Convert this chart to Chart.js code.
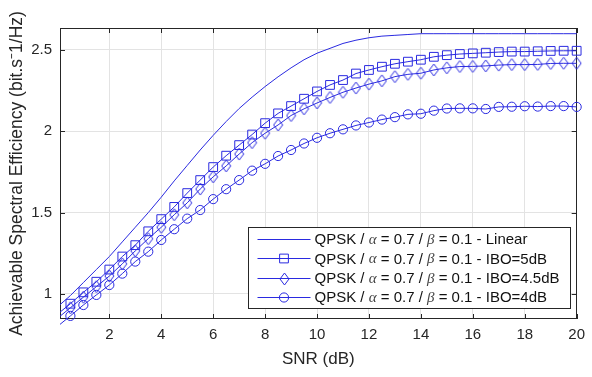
<!DOCTYPE html>
<html>
<head>
<meta charset="utf-8">
<script src="https://cdn.jsdelivr.net/npm/chart.js@4.4.1/dist/chart.umd.min.js"></script>
<style>
html,body{margin:0;padding:0;background:#fff;}
#wrap{width:592px;height:377px;position:relative;}
</style>
</head>
<body>
<div id="wrap"><canvas id="c" width="592" height="377"></canvas></div>
<script>
// ---------- data ----------
const snrDb = [0,0.5,1,1.5,2,2.5,3,3.5,4,4.5,5,5.5,6,6.5,7,7.5,8,8.5,9,9.5,10,10.5,11,11.5,12,12.5,13,13.5,14,14.5,15,15.5,16,16.5,17,17.5,18,18.5,19,19.5,20];

const seLinear = [0.92,0.99,1.07,1.15,1.23,1.32,1.41,1.50,1.595,1.695,1.79,1.885,1.975,2.06,2.14,2.21,2.275,2.335,2.39,2.44,2.48,2.51,2.54,2.56,2.575,2.585,2.59,2.595,2.6,2.6,2.6,2.6,2.6,2.6,2.6,2.6,2.6,2.6,2.6,2.6,2.6];

const seIbo5 = [0.875,0.94,1.01,1.075,1.15,1.23,1.30,1.385,1.46,1.535,1.62,1.70,1.78,1.85,1.915,1.98,2.05,2.11,2.155,2.20,2.245,2.285,2.315,2.355,2.377,2.397,2.415,2.428,2.44,2.458,2.468,2.475,2.479,2.483,2.487,2.49,2.49,2.492,2.494,2.495,2.495];

const seIbo45 = [0.85,0.915,0.98,1.045,1.11,1.185,1.265,1.34,1.41,1.487,1.56,1.645,1.72,1.787,1.86,1.93,1.988,2.039,2.097,2.138,2.174,2.208,2.24,2.266,2.29,2.31,2.336,2.35,2.357,2.377,2.39,2.398,2.399,2.402,2.407,2.41,2.41,2.411,2.417,2.418,2.418];

const seIbo4 = [0.80,0.865,0.932,0.994,1.055,1.125,1.199,1.26,1.332,1.398,1.463,1.516,1.583,1.644,1.70,1.758,1.80,1.848,1.885,1.925,1.96,1.988,2.012,2.036,2.054,2.072,2.087,2.104,2.108,2.127,2.14,2.141,2.141,2.137,2.15,2.151,2.154,2.152,2.155,2.155,2.15];

const seriesLabels = [
  'QPSK / α = 0.7 / β = 0.1 - Linear',
  'QPSK / α = 0.7 / β = 0.1 - IBO=5dB',
  'QPSK / α = 0.7 / β = 0.1 - IBO=4.5dB',
  'QPSK / α = 0.7 / β = 0.1 - IBO=4dB'
];

const xTickValues = [2,4,6,8,10,12,14,16,18,20];
const yTickValues = [1,1.5,2,2.5];
const xAxisTitle = 'SNR (dB)';
const yAxisTitle = 'Achievable Spectral Efficiency (bit.s\u207B1/Hz)';

// ---------- styles ----------
const X_MIN = 0.1, X_MAX = 20, Y_MIN = 0.846, Y_MAX = 2.635;
const BLUE = '#2a2ae0';
const AX = '#262626';
const FONT = '"Liberation Sans", Arial, Helvetica, sans-serif';

function makeDiamond() {
  const cv = document.createElement('canvas');
  cv.width = 11; cv.height = 14;
  const g = cv.getContext('2d');
  g.strokeStyle = BLUE; g.lineWidth = 1;
  g.beginPath();
  g.moveTo(5.5, 1); g.lineTo(10, 7); g.lineTo(5.5, 13); g.lineTo(1, 7); g.closePath();
  g.stroke();
  return cv;
}
const diamondImg = makeDiamond();

const toPts = arr => snrDb.map((x, i) => ({x: x, y: arr[i]}));

const markerDefs = [
  {style: false, radius: 0},
  {style: 'rect', radius: 6.2},
  {style: diamondImg, radius: 6},
  {style: 'circle', radius: 4.6}
];
const seriesData = [seLinear, seIbo5, seIbo45, seIbo4];

const datasets = seriesData.map((arr, i) => ({
  label: seriesLabels[i],
  data: toPts(arr),
  borderColor: BLUE,
  borderWidth: 1,
  backgroundColor: 'transparent',
  pointStyle: markerDefs[i].style,
  pointRadius: i === 0 ? 0 : (ctx => (ctx.parsed && ctx.parsed.x < X_MIN) ? 0 : markerDefs[i].radius),
  pointBorderColor: BLUE,
  pointBackgroundColor: 'rgba(0,0,0,0)',
  pointBorderWidth: 1,
  pointHoverRadius: 0,
  tension: 0,
  clip: {left: 0, top: 10, right: 10, bottom: 10}
}));

// ---------- plugins ----------
const framePlugin = {
  id: 'frame',
  beforeDatasetsDraw(chart) {
    const {ctx, chartArea: a, scales} = chart;
    ctx.save();
    ctx.strokeStyle = AX;
    ctx.lineWidth = 1;
    ctx.strokeRect(Math.round(a.left) + 0.5, Math.round(a.top) + 0.5, Math.round(a.right - a.left) - 1, Math.round(a.bottom - a.top) - 1);
    const tl = 5;
    ctx.beginPath();
    xTickValues.forEach(v => {
      const px = Math.round(scales.x.getPixelForValue(v)) + 0.5;
      ctx.moveTo(px, a.bottom); ctx.lineTo(px, a.bottom - tl);
      ctx.moveTo(px, a.top); ctx.lineTo(px, a.top + tl);
    });
    yTickValues.forEach(v => {
      const py = Math.round(scales.y.getPixelForValue(v)) + 0.5;
      ctx.moveTo(a.left, py); ctx.lineTo(a.left + tl, py);
      ctx.moveTo(a.right, py); ctx.lineTo(a.right - tl, py);
    });
    ctx.stroke();
    ctx.restore();
  }
};

function drawMarker(ctx, style, x, y, r) {
  if (!style) return;
  ctx.beginPath();
  if (style === 'rect') {
    const s = Math.SQRT1_2 * r;
    ctx.rect(x - s, y - s, 2 * s, 2 * s);
    ctx.stroke();
  } else if (style === 'circle') {
    ctx.arc(x, y, r, 0, Math.PI * 2);
    ctx.stroke();
  } else {
    ctx.drawImage(style, Math.round(x - style.width / 2), Math.round(y - style.height / 2));
  }
}

const legendPlugin = {
  id: 'matlabLegend',
  afterDraw(chart) {
    const {ctx, chartArea: a} = chart;
    const w = 322, h = 81;
    const bx = Math.round(a.right - 7 - w) + 0.5;
    const by = Math.round(a.bottom - 11 - h) + 0.5;
    ctx.save();
    ctx.fillStyle = '#fff';
    ctx.fillRect(bx, by, w, h);
    ctx.strokeStyle = AX;
    ctx.lineWidth = 1;
    ctx.strokeRect(bx, by, w, h);
    chart.data.datasets.forEach((ds, i) => {
      const cy = by + 11.5 + i * 19.4;
      ctx.strokeStyle = BLUE;
      ctx.lineWidth = 1;
      ctx.beginPath();
      ctx.moveTo(bx + 9, Math.round(cy) + 0.5);
      ctx.lineTo(bx + 62, Math.round(cy) + 0.5);
      ctx.stroke();
      drawMarker(ctx, markerDefs[i].style, bx + 35.5, Math.round(cy) + 0.5, markerDefs[i].radius);
      let tx = bx + 66;
      ctx.textBaseline = 'middle';
      ctx.textAlign = 'left';
      const parts = ds.label.split(/([αβ])/);
      parts.forEach(p => {
        if (!p) return;
        if (p === 'α' || p === 'β') {
          ctx.font = 'italic 15px "Liberation Serif", "DejaVu Serif", serif';
          ctx.fillStyle = '#444';
        } else {
          ctx.font = '15px ' + FONT;
          ctx.fillStyle = '#111';
        }
        ctx.fillText(p, tx, cy + 1);
        tx += ctx.measureText(p).width;
      });
    });
    ctx.restore();
  }
};

// ---------- chart ----------
new Chart(document.getElementById('c'), {
  type: 'line',
  data: {datasets: datasets},
  options: {
    responsive: false,
    animation: false,
    events: [],
    layout: {padding: {left: 0, right: 10, top: 28, bottom: 0}},
    plugins: {legend: {display: false}, tooltip: {enabled: false}},
    scales: {
      x: {
        type: 'linear',
        min: X_MIN, max: X_MAX,
        afterBuildTicks: s => { s.ticks = xTickValues.map(v => ({value: v})); },
        afterFit: s => { s.height = 58; },
        grid: {color: '#e3e3e3', drawTicks: false, lineWidth: 1},
        border: {display: false},
        ticks: {color: AX, font: {family: FONT, size: 15}, padding: 7, maxRotation: 0, autoSkip: false, callback: v => String(v)},
        title: {display: true, text: xAxisTitle, color: AX, font: {family: FONT, size: 17}, padding: {top: 0, bottom: 7}}
      },
      y: {
        type: 'linear',
        min: Y_MIN, max: Y_MAX,
        afterBuildTicks: s => { s.ticks = yTickValues.map(v => ({value: v})); },
        afterFit: s => { s.width = 60; },
        grid: {color: '#e3e3e3', drawTicks: false, lineWidth: 1},
        border: {display: false},
        ticks: {color: AX, font: {family: FONT, size: 15}, padding: 8, autoSkip: false, callback: v => String(v)},
        title: {display: true, text: yAxisTitle, color: AX, font: {family: FONT, size: 17.5}, padding: {top: 6.5, bottom: 0}}
      }
    }
  },
  plugins: [framePlugin, legendPlugin]
});
</script>
</body>
</html>
